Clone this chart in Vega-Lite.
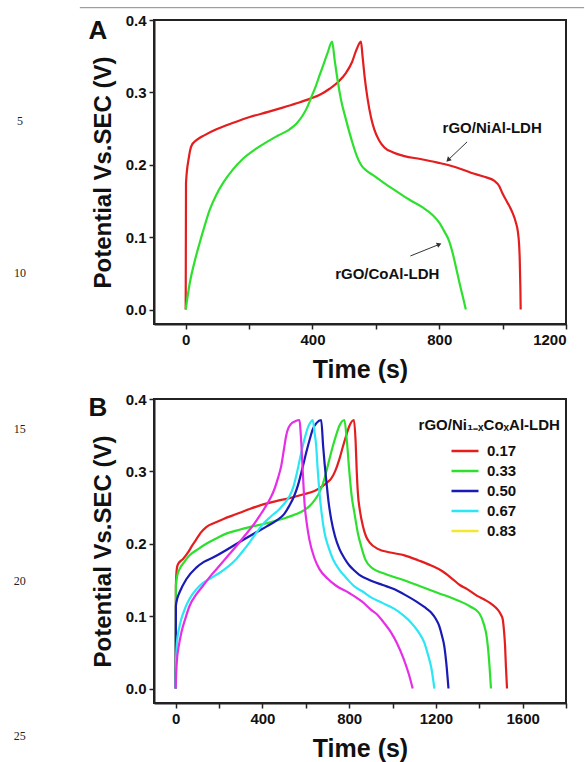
{
  "$schema": "https://vega.github.io/schema/vega-lite/v6.json",
  "background": "white",
  "padding": {"left": 12, "top": 6, "right": 0, "bottom": 0},
  "spacing": 8,
  "config": {
    "font": "Liberation Sans",
    "view": {"stroke": "#222", "strokeWidth": 2},
    "axis": {
      "domainColor": "#222", "domainWidth": 2, "tickColor": "#222", "tickWidth": 1.5, "tickSize": 5,
      "labelFont": "Liberation Sans", "labelFontSize": 15, "labelFontWeight": "bold", "labelColor": "#111", "labelPadding": 3,
      "titleFont": "Liberation Sans", "titleFontSize": 24, "titleFontWeight": "bold", "titleColor": "#111", "grid": false
    },
    "text": {"font": "Liberation Sans"}
  },
  "resolve": {"scale": {"color": "independent"}, "legend": {"color": "independent"}},
  "datasets": {
    "curvesA": [
      {"s": "rGO/NiAl-LDH", "t": 0, "v": 0}, {"s": "rGO/NiAl-LDH", "t": 1, "v": 0.175}, {"s": "rGO/NiAl-LDH", "t": 10, "v": 0.21}, {"s": "rGO/NiAl-LDH", "t": 18, "v": 0.226},
      {"s": "rGO/NiAl-LDH", "t": 34, "v": 0.234}, {"s": "rGO/NiAl-LDH", "t": 60, "v": 0.241}, {"s": "rGO/NiAl-LDH", "t": 97, "v": 0.249}, {"s": "rGO/NiAl-LDH", "t": 150, "v": 0.258},
      {"s": "rGO/NiAl-LDH", "t": 202, "v": 0.266}, {"s": "rGO/NiAl-LDH", "t": 260, "v": 0.273}, {"s": "rGO/NiAl-LDH", "t": 306, "v": 0.279}, {"s": "rGO/NiAl-LDH", "t": 350, "v": 0.285},
      {"s": "rGO/NiAl-LDH", "t": 391, "v": 0.291}, {"s": "rGO/NiAl-LDH", "t": 425, "v": 0.297}, {"s": "rGO/NiAl-LDH", "t": 454, "v": 0.305}, {"s": "rGO/NiAl-LDH", "t": 480, "v": 0.314},
      {"s": "rGO/NiAl-LDH", "t": 506, "v": 0.327}, {"s": "rGO/NiAl-LDH", "t": 525, "v": 0.342}, {"s": "rGO/NiAl-LDH", "t": 538, "v": 0.358}, {"s": "rGO/NiAl-LDH", "t": 553, "v": 0.37},
      {"s": "rGO/NiAl-LDH", "t": 558, "v": 0.35}, {"s": "rGO/NiAl-LDH", "t": 565, "v": 0.32}, {"s": "rGO/NiAl-LDH", "t": 574, "v": 0.291}, {"s": "rGO/NiAl-LDH", "t": 585, "v": 0.265},
      {"s": "rGO/NiAl-LDH", "t": 595, "v": 0.249}, {"s": "rGO/NiAl-LDH", "t": 610, "v": 0.234}, {"s": "rGO/NiAl-LDH", "t": 627, "v": 0.224}, {"s": "rGO/NiAl-LDH", "t": 655, "v": 0.217},
      {"s": "rGO/NiAl-LDH", "t": 690, "v": 0.212}, {"s": "rGO/NiAl-LDH", "t": 740, "v": 0.208}, {"s": "rGO/NiAl-LDH", "t": 795, "v": 0.203}, {"s": "rGO/NiAl-LDH", "t": 850, "v": 0.197},
      {"s": "rGO/NiAl-LDH", "t": 900, "v": 0.189}, {"s": "rGO/NiAl-LDH", "t": 945, "v": 0.183}, {"s": "rGO/NiAl-LDH", "t": 973, "v": 0.178}, {"s": "rGO/NiAl-LDH", "t": 990, "v": 0.17},
      {"s": "rGO/NiAl-LDH", "t": 999, "v": 0.161}, {"s": "rGO/NiAl-LDH", "t": 1015, "v": 0.148}, {"s": "rGO/NiAl-LDH", "t": 1031, "v": 0.134}, {"s": "rGO/NiAl-LDH", "t": 1042, "v": 0.12},
      {"s": "rGO/NiAl-LDH", "t": 1048, "v": 0.108}, {"s": "rGO/NiAl-LDH", "t": 1052, "v": 0.09}, {"s": "rGO/NiAl-LDH", "t": 1054, "v": 0.07}, {"s": "rGO/NiAl-LDH", "t": 1056, "v": 0.03},
      {"s": "rGO/NiAl-LDH", "t": 1057, "v": 0},
      {"s": "rGO/CoAl-LDH", "t": 0, "v": 0}, {"s": "rGO/CoAl-LDH", "t": 5, "v": 0.015}, {"s": "rGO/CoAl-LDH", "t": 13, "v": 0.037}, {"s": "rGO/CoAl-LDH", "t": 28, "v": 0.066},
      {"s": "rGO/CoAl-LDH", "t": 44, "v": 0.092}, {"s": "rGO/CoAl-LDH", "t": 60, "v": 0.116}, {"s": "rGO/CoAl-LDH", "t": 76, "v": 0.138}, {"s": "rGO/CoAl-LDH", "t": 96, "v": 0.158},
      {"s": "rGO/CoAl-LDH", "t": 118, "v": 0.175}, {"s": "rGO/CoAl-LDH", "t": 148, "v": 0.193}, {"s": "rGO/CoAl-LDH", "t": 180, "v": 0.208}, {"s": "rGO/CoAl-LDH", "t": 215, "v": 0.22},
      {"s": "rGO/CoAl-LDH", "t": 254, "v": 0.231}, {"s": "rGO/CoAl-LDH", "t": 290, "v": 0.24}, {"s": "rGO/CoAl-LDH", "t": 328, "v": 0.249}, {"s": "rGO/CoAl-LDH", "t": 350, "v": 0.257},
      {"s": "rGO/CoAl-LDH", "t": 369, "v": 0.268}, {"s": "rGO/CoAl-LDH", "t": 384, "v": 0.28}, {"s": "rGO/CoAl-LDH", "t": 396, "v": 0.293}, {"s": "rGO/CoAl-LDH", "t": 410, "v": 0.308},
      {"s": "rGO/CoAl-LDH", "t": 422, "v": 0.323}, {"s": "rGO/CoAl-LDH", "t": 436, "v": 0.34}, {"s": "rGO/CoAl-LDH", "t": 448, "v": 0.355}, {"s": "rGO/CoAl-LDH", "t": 462, "v": 0.37},
      {"s": "rGO/CoAl-LDH", "t": 470, "v": 0.345}, {"s": "rGO/CoAl-LDH", "t": 480, "v": 0.315}, {"s": "rGO/CoAl-LDH", "t": 490, "v": 0.29}, {"s": "rGO/CoAl-LDH", "t": 506, "v": 0.262},
      {"s": "rGO/CoAl-LDH", "t": 525, "v": 0.232}, {"s": "rGO/CoAl-LDH", "t": 540, "v": 0.212}, {"s": "rGO/CoAl-LDH", "t": 553, "v": 0.2}, {"s": "rGO/CoAl-LDH", "t": 570, "v": 0.192},
      {"s": "rGO/CoAl-LDH", "t": 590, "v": 0.186}, {"s": "rGO/CoAl-LDH", "t": 625, "v": 0.175}, {"s": "rGO/CoAl-LDH", "t": 663, "v": 0.164}, {"s": "rGO/CoAl-LDH", "t": 705, "v": 0.152},
      {"s": "rGO/CoAl-LDH", "t": 748, "v": 0.141}, {"s": "rGO/CoAl-LDH", "t": 778, "v": 0.131}, {"s": "rGO/CoAl-LDH", "t": 800, "v": 0.12}, {"s": "rGO/CoAl-LDH", "t": 816, "v": 0.108},
      {"s": "rGO/CoAl-LDH", "t": 831, "v": 0.095}, {"s": "rGO/CoAl-LDH", "t": 843, "v": 0.077}, {"s": "rGO/CoAl-LDH", "t": 853, "v": 0.058}, {"s": "rGO/CoAl-LDH", "t": 866, "v": 0.033},
      {"s": "rGO/CoAl-LDH", "t": 876, "v": 0.015}, {"s": "rGO/CoAl-LDH", "t": 884, "v": 0}
    ],
    "annA": [
      {"label": "rGO/NiAl-LDH", "lx": 967, "ly": 0.251, "tx": 888, "ty": 0.2316, "hx": 828, "hy": 0.2066},
      {"label": "rGO/CoAl-LDH", "lx": 636, "ly": 0.049, "tx": 709, "ty": 0.074, "hx": 800, "hy": 0.09}
    ],
    "lineNumsA": [
      {"n": "5", "x": -523, "y": 0.261},
      {"n": "10", "x": -523, "y": 0.05}
    ],
    "lineNumsB": [
      {"n": "15", "x": -719, "y": 0.358},
      {"n": "20", "x": -719, "y": 0.149},
      {"n": "25", "x": -719, "y": -0.065}
    ],
    "pageRule": [
      {"x": -334, "x2": 1257, "y": 0.417}
    ],
    "curvesB": [
      {"s": "0.17", "t": 0, "v": 0}, {"s": "0.17", "t": 1, "v": 0.142}, {"s": "0.17", "t": 5, "v": 0.165}, {"s": "0.17", "t": 11, "v": 0.172}, {"s": "0.17", "t": 34, "v": 0.179},
      {"s": "0.17", "t": 57, "v": 0.188}, {"s": "0.17", "t": 75, "v": 0.197}, {"s": "0.17", "t": 95, "v": 0.206}, {"s": "0.17", "t": 115, "v": 0.215}, {"s": "0.17", "t": 141, "v": 0.223},
      {"s": "0.17", "t": 180, "v": 0.229}, {"s": "0.17", "t": 218, "v": 0.234}, {"s": "0.17", "t": 280, "v": 0.241}, {"s": "0.17", "t": 341, "v": 0.248}, {"s": "0.17", "t": 400, "v": 0.254},
      {"s": "0.17", "t": 464, "v": 0.259}, {"s": "0.17", "t": 525, "v": 0.263}, {"s": "0.17", "t": 586, "v": 0.268}, {"s": "0.17", "t": 640, "v": 0.273}, {"s": "0.17", "t": 679, "v": 0.28},
      {"s": "0.17", "t": 700, "v": 0.285}, {"s": "0.17", "t": 717, "v": 0.29}, {"s": "0.17", "t": 735, "v": 0.3}, {"s": "0.17", "t": 755, "v": 0.317}, {"s": "0.17", "t": 770, "v": 0.333},
      {"s": "0.17", "t": 786, "v": 0.349}, {"s": "0.17", "t": 800, "v": 0.362}, {"s": "0.17", "t": 822, "v": 0.371}, {"s": "0.17", "t": 830, "v": 0.34}, {"s": "0.17", "t": 835, "v": 0.3},
      {"s": "0.17", "t": 840, "v": 0.271}, {"s": "0.17", "t": 850, "v": 0.245}, {"s": "0.17", "t": 863, "v": 0.225}, {"s": "0.17", "t": 878, "v": 0.21}, {"s": "0.17", "t": 894, "v": 0.202},
      {"s": "0.17", "t": 932, "v": 0.193}, {"s": "0.17", "t": 990, "v": 0.188}, {"s": "0.17", "t": 1055, "v": 0.184}, {"s": "0.17", "t": 1120, "v": 0.177}, {"s": "0.17", "t": 1178, "v": 0.17},
      {"s": "0.17", "t": 1230, "v": 0.162}, {"s": "0.17", "t": 1270, "v": 0.153}, {"s": "0.17", "t": 1310, "v": 0.143}, {"s": "0.17", "t": 1346, "v": 0.137}, {"s": "0.17", "t": 1390, "v": 0.128},
      {"s": "0.17", "t": 1423, "v": 0.123}, {"s": "0.17", "t": 1460, "v": 0.116}, {"s": "0.17", "t": 1485, "v": 0.109}, {"s": "0.17", "t": 1500, "v": 0.102}, {"s": "0.17", "t": 1508, "v": 0.096},
      {"s": "0.17", "t": 1514, "v": 0.08}, {"s": "0.17", "t": 1519, "v": 0.059}, {"s": "0.17", "t": 1523, "v": 0.03}, {"s": "0.17", "t": 1528, "v": 0},
      {"s": "0.33", "t": 0, "v": 0}, {"s": "0.33", "t": 1, "v": 0.142}, {"s": "0.33", "t": 8, "v": 0.157}, {"s": "0.33", "t": 18, "v": 0.165}, {"s": "0.33", "t": 40, "v": 0.175},
      {"s": "0.33", "t": 64, "v": 0.184}, {"s": "0.33", "t": 100, "v": 0.192}, {"s": "0.33", "t": 141, "v": 0.2}, {"s": "0.33", "t": 185, "v": 0.207}, {"s": "0.33", "t": 233, "v": 0.214},
      {"s": "0.33", "t": 290, "v": 0.219}, {"s": "0.33", "t": 341, "v": 0.223}, {"s": "0.33", "t": 400, "v": 0.227}, {"s": "0.33", "t": 464, "v": 0.232}, {"s": "0.33", "t": 510, "v": 0.236},
      {"s": "0.33", "t": 556, "v": 0.241}, {"s": "0.33", "t": 590, "v": 0.246}, {"s": "0.33", "t": 617, "v": 0.252}, {"s": "0.33", "t": 640, "v": 0.26}, {"s": "0.33", "t": 663, "v": 0.271},
      {"s": "0.33", "t": 680, "v": 0.284}, {"s": "0.33", "t": 694, "v": 0.299}, {"s": "0.33", "t": 710, "v": 0.318}, {"s": "0.33", "t": 725, "v": 0.335}, {"s": "0.33", "t": 740, "v": 0.35},
      {"s": "0.33", "t": 755, "v": 0.363}, {"s": "0.33", "t": 778, "v": 0.371}, {"s": "0.33", "t": 790, "v": 0.34}, {"s": "0.33", "t": 801, "v": 0.299}, {"s": "0.33", "t": 812, "v": 0.265},
      {"s": "0.33", "t": 824, "v": 0.243}, {"s": "0.33", "t": 840, "v": 0.215}, {"s": "0.33", "t": 855, "v": 0.197}, {"s": "0.33", "t": 875, "v": 0.178}, {"s": "0.33", "t": 900, "v": 0.168},
      {"s": "0.33", "t": 970, "v": 0.158}, {"s": "0.33", "t": 1050, "v": 0.15}, {"s": "0.33", "t": 1130, "v": 0.141}, {"s": "0.33", "t": 1210, "v": 0.132}, {"s": "0.33", "t": 1290, "v": 0.123},
      {"s": "0.33", "t": 1360, "v": 0.113}, {"s": "0.33", "t": 1400, "v": 0.104}, {"s": "0.33", "t": 1420, "v": 0.09}, {"s": "0.33", "t": 1435, "v": 0.07}, {"s": "0.33", "t": 1445, "v": 0.04},
      {"s": "0.33", "t": 1454, "v": 0},
      {"s": "0.50", "t": 0, "v": 0}, {"s": "0.50", "t": 1, "v": 0.114}, {"s": "0.50", "t": 8, "v": 0.125}, {"s": "0.50", "t": 18, "v": 0.133}, {"s": "0.50", "t": 49, "v": 0.151},
      {"s": "0.50", "t": 95, "v": 0.167}, {"s": "0.50", "t": 130, "v": 0.175}, {"s": "0.50", "t": 172, "v": 0.181}, {"s": "0.50", "t": 220, "v": 0.189}, {"s": "0.50", "t": 264, "v": 0.197},
      {"s": "0.50", "t": 320, "v": 0.207}, {"s": "0.50", "t": 372, "v": 0.216}, {"s": "0.50", "t": 420, "v": 0.224}, {"s": "0.50", "t": 464, "v": 0.232}, {"s": "0.50", "t": 500, "v": 0.241},
      {"s": "0.50", "t": 525, "v": 0.253}, {"s": "0.50", "t": 545, "v": 0.265}, {"s": "0.50", "t": 563, "v": 0.28}, {"s": "0.50", "t": 585, "v": 0.305}, {"s": "0.50", "t": 602, "v": 0.326},
      {"s": "0.50", "t": 618, "v": 0.344}, {"s": "0.50", "t": 632, "v": 0.358}, {"s": "0.50", "t": 650, "v": 0.367}, {"s": "0.50", "t": 671, "v": 0.371}, {"s": "0.50", "t": 680, "v": 0.335},
      {"s": "0.50", "t": 687, "v": 0.31}, {"s": "0.50", "t": 694, "v": 0.289}, {"s": "0.50", "t": 705, "v": 0.258}, {"s": "0.50", "t": 717, "v": 0.234}, {"s": "0.50", "t": 735, "v": 0.21},
      {"s": "0.50", "t": 755, "v": 0.193}, {"s": "0.50", "t": 778, "v": 0.18}, {"s": "0.50", "t": 801, "v": 0.17}, {"s": "0.50", "t": 824, "v": 0.163}, {"s": "0.50", "t": 847, "v": 0.157},
      {"s": "0.50", "t": 901, "v": 0.149}, {"s": "0.50", "t": 955, "v": 0.143}, {"s": "0.50", "t": 1009, "v": 0.137}, {"s": "0.50", "t": 1060, "v": 0.129}, {"s": "0.50", "t": 1116, "v": 0.119},
      {"s": "0.50", "t": 1150, "v": 0.112}, {"s": "0.50", "t": 1178, "v": 0.105}, {"s": "0.50", "t": 1200, "v": 0.096}, {"s": "0.50", "t": 1216, "v": 0.086}, {"s": "0.50", "t": 1228, "v": 0.073},
      {"s": "0.50", "t": 1239, "v": 0.058}, {"s": "0.50", "t": 1248, "v": 0.035}, {"s": "0.50", "t": 1258, "v": 0},
      {"s": "0.67", "t": 0, "v": 0}, {"s": "0.67", "t": 2, "v": 0.04}, {"s": "0.67", "t": 6, "v": 0.064}, {"s": "0.67", "t": 15, "v": 0.082}, {"s": "0.67", "t": 26, "v": 0.096},
      {"s": "0.67", "t": 45, "v": 0.112}, {"s": "0.67", "t": 64, "v": 0.124}, {"s": "0.67", "t": 95, "v": 0.137}, {"s": "0.67", "t": 126, "v": 0.146}, {"s": "0.67", "t": 165, "v": 0.153},
      {"s": "0.67", "t": 203, "v": 0.16}, {"s": "0.67", "t": 240, "v": 0.168}, {"s": "0.67", "t": 280, "v": 0.179}, {"s": "0.67", "t": 310, "v": 0.19}, {"s": "0.67", "t": 341, "v": 0.202},
      {"s": "0.67", "t": 372, "v": 0.215}, {"s": "0.67", "t": 402, "v": 0.227}, {"s": "0.67", "t": 440, "v": 0.238}, {"s": "0.67", "t": 479, "v": 0.248}, {"s": "0.67", "t": 505, "v": 0.257},
      {"s": "0.67", "t": 525, "v": 0.266}, {"s": "0.67", "t": 542, "v": 0.278}, {"s": "0.67", "t": 556, "v": 0.294}, {"s": "0.67", "t": 572, "v": 0.316}, {"s": "0.67", "t": 586, "v": 0.335},
      {"s": "0.67", "t": 598, "v": 0.349}, {"s": "0.67", "t": 609, "v": 0.36}, {"s": "0.67", "t": 620, "v": 0.367}, {"s": "0.67", "t": 632, "v": 0.371}, {"s": "0.67", "t": 640, "v": 0.355},
      {"s": "0.67", "t": 648, "v": 0.335}, {"s": "0.67", "t": 655, "v": 0.302}, {"s": "0.67", "t": 663, "v": 0.271}, {"s": "0.67", "t": 674, "v": 0.24}, {"s": "0.67", "t": 686, "v": 0.216},
      {"s": "0.67", "t": 705, "v": 0.195}, {"s": "0.67", "t": 725, "v": 0.179}, {"s": "0.67", "t": 755, "v": 0.164}, {"s": "0.67", "t": 786, "v": 0.153}, {"s": "0.67", "t": 824, "v": 0.141},
      {"s": "0.67", "t": 862, "v": 0.134}, {"s": "0.67", "t": 901, "v": 0.126}, {"s": "0.67", "t": 955, "v": 0.118}, {"s": "0.67", "t": 1009, "v": 0.11}, {"s": "0.67", "t": 1050, "v": 0.101},
      {"s": "0.67", "t": 1086, "v": 0.091}, {"s": "0.67", "t": 1120, "v": 0.078}, {"s": "0.67", "t": 1147, "v": 0.063}, {"s": "0.67", "t": 1165, "v": 0.045}, {"s": "0.67", "t": 1178, "v": 0.03},
      {"s": "0.67", "t": 1193, "v": 0},
      {"s": "0.83", "t": 0, "v": 0}, {"s": "0.83", "t": 2, "v": 0.02}, {"s": "0.83", "t": 6, "v": 0.04}, {"s": "0.83", "t": 15, "v": 0.06}, {"s": "0.83", "t": 26, "v": 0.077},
      {"s": "0.83", "t": 45, "v": 0.097}, {"s": "0.83", "t": 64, "v": 0.114}, {"s": "0.83", "t": 95, "v": 0.13}, {"s": "0.83", "t": 126, "v": 0.142}, {"s": "0.83", "t": 165, "v": 0.157},
      {"s": "0.83", "t": 203, "v": 0.17}, {"s": "0.83", "t": 240, "v": 0.183}, {"s": "0.83", "t": 280, "v": 0.197}, {"s": "0.83", "t": 318, "v": 0.211}, {"s": "0.83", "t": 356, "v": 0.225},
      {"s": "0.83", "t": 388, "v": 0.239}, {"s": "0.83", "t": 418, "v": 0.253}, {"s": "0.83", "t": 440, "v": 0.265}, {"s": "0.83", "t": 456, "v": 0.276}, {"s": "0.83", "t": 472, "v": 0.291},
      {"s": "0.83", "t": 487, "v": 0.308}, {"s": "0.83", "t": 500, "v": 0.332}, {"s": "0.83", "t": 510, "v": 0.35}, {"s": "0.83", "t": 520, "v": 0.36}, {"s": "0.83", "t": 533, "v": 0.366},
      {"s": "0.83", "t": 550, "v": 0.369}, {"s": "0.83", "t": 571, "v": 0.371}, {"s": "0.83", "t": 576, "v": 0.355}, {"s": "0.83", "t": 580, "v": 0.335}, {"s": "0.83", "t": 586, "v": 0.3},
      {"s": "0.83", "t": 594, "v": 0.257}, {"s": "0.83", "t": 605, "v": 0.227}, {"s": "0.83", "t": 617, "v": 0.205}, {"s": "0.83", "t": 640, "v": 0.18}, {"s": "0.83", "t": 663, "v": 0.165},
      {"s": "0.83", "t": 700, "v": 0.152}, {"s": "0.83", "t": 740, "v": 0.142}, {"s": "0.83", "t": 800, "v": 0.132}, {"s": "0.83", "t": 860, "v": 0.12}, {"s": "0.83", "t": 900, "v": 0.109},
      {"s": "0.83", "t": 930, "v": 0.102}, {"s": "0.83", "t": 960, "v": 0.091}, {"s": "0.83", "t": 990, "v": 0.079}, {"s": "0.83", "t": 1020, "v": 0.063}, {"s": "0.83", "t": 1050, "v": 0.042},
      {"s": "0.83", "t": 1075, "v": 0.02}, {"s": "0.83", "t": 1093, "v": 0}
    ]
  },
  "vconcat": [
    {
      "width": 412,
      "height": 304,
      "layer": [
        {
          "data": {"name": "curvesA"},
          "mark": {"type": "line", "strokeWidth": 2.2, "interpolate": "monotone"},
          "encoding": {
            "x": {"field": "t", "type": "quantitative", "scale": {"domain": [-100, 1200], "nice": false, "zero": false},
              "axis": {"title": "Time (s)", "titleFontSize": 25, "format": "d", "values": [0, 200, 400, 600, 800, 1000, 1200], "labelExpr": "datum.value % 400 === 0 ? datum.label : ''", "titlePadding": 10}},
            "y": {"field": "v", "type": "quantitative", "scale": {"domain": [-0.02, 0.4], "nice": false, "zero": false},
              "axis": {"title": "Potential Vs.SEC (V)", "values": [0, 0.05, 0.1, 0.15, 0.2, 0.25, 0.3, 0.35, 0.4], "format": ".1f", "labelExpr": "round(datum.value * 100) % 10 === 0 ? datum.label : ''", "titlePadding": 10}},
            "color": {"field": "s", "type": "nominal", "scale": {"domain": ["rGO/NiAl-LDH", "rGO/CoAl-LDH"], "range": ["#e41e1e", "#2ee02e"]}, "legend": null}
          }
        },
        {
          "data": {"name": "annA"},
          "mark": {"type": "rule", "color": "#333", "strokeWidth": 1},
          "encoding": {
            "x": {"field": "tx", "type": "quantitative"}, "y": {"field": "ty", "type": "quantitative"},
            "x2": {"field": "hx"}, "y2": {"field": "hy"}
          }
        },
        {
          "data": {"name": "annA"},
          "transform": [{"filter": "datum.label === 'rGO/NiAl-LDH'"}],
          "mark": {"type": "point", "shape": "triangle-up", "filled": true, "color": "#333", "size": 30, "angle": 226, "opacity": 1},
          "encoding": {"x": {"field": "hx", "type": "quantitative"}, "y": {"field": "hy", "type": "quantitative"}}
        },
        {
          "data": {"name": "annA"},
          "transform": [{"filter": "datum.label === 'rGO/CoAl-LDH'"}],
          "mark": {"type": "point", "shape": "triangle-up", "filled": true, "color": "#333", "size": 30, "angle": 67, "opacity": 1},
          "encoding": {"x": {"field": "hx", "type": "quantitative"}, "y": {"field": "hy", "type": "quantitative"}}
        },
        {
          "data": {"name": "annA"},
          "mark": {"type": "text", "fontSize": 15, "fontWeight": "bold", "color": "#111", "align": "center", "baseline": "middle"},
          "encoding": {
            "x": {"field": "lx", "type": "quantitative"}, "y": {"field": "ly", "type": "quantitative"},
            "text": {"field": "label"}
          }
        },
        {
          "data": {"values": [{"panel": "A"}]},
          "mark": {"type": "text", "fontSize": 26, "fontWeight": "bold", "color": "#111", "align": "center", "baseline": "alphabetic", "dx": -56, "dy": 19},
          "encoding": {"x": {"datum": -100}, "y": {"datum": 0.4}, "text": {"field": "panel"}}
        },
        {
          "data": {"name": "lineNumsA"},
          "mark": {"type": "text", "font": "Liberation Serif", "fontSize": 12, "color": "#222", "align": "center", "baseline": "middle"},
          "encoding": {"x": {"field": "x", "type": "quantitative"}, "y": {"field": "y", "type": "quantitative"}, "text": {"field": "n"}}
        },
        {
          "data": {"name": "pageRule"},
          "mark": {"type": "rule", "color": "#888", "strokeWidth": 1},
          "encoding": {"x": {"field": "x", "type": "quantitative"}, "x2": {"field": "x2"}, "y": {"field": "y", "type": "quantitative"}}
        }
      ]
    },
    {
      "width": 412,
      "height": 304,
      "layer": [
        {
          "data": {"name": "curvesB"},
          "transform": [{"filter": "datum.s !== '0.83'"}],
          "mark": {"type": "line", "strokeWidth": 2.2, "interpolate": "monotone"},
          "encoding": {
            "x": {"field": "t", "type": "quantitative", "scale": {"domain": [-100, 1800], "nice": false, "zero": false},
              "axis": {"title": "Time (s)", "titleFontSize": 25, "format": "d", "values": [0, 200, 400, 600, 800, 1000, 1200, 1400, 1600, 1800], "labelExpr": "datum.value % 400 === 0 && datum.value <= 1600 ? datum.label : ''", "titlePadding": 10}},
            "y": {"field": "v", "type": "quantitative", "scale": {"domain": [-0.02, 0.4], "nice": false, "zero": false},
              "axis": {"title": "Potential Vs.SEC (V)", "values": [0, 0.05, 0.1, 0.15, 0.2, 0.25, 0.3, 0.35, 0.4], "format": ".1f", "labelExpr": "round(datum.value * 100) % 10 === 0 ? datum.label : ''", "titlePadding": 10}},
            "color": {"field": "s", "type": "nominal",
              "scale": {"domain": ["0.17", "0.33", "0.50", "0.67", "0.83"], "range": ["#e41e1e", "#2ee02e", "#1a1ab4", "#2be6f5", "#f5e62e"]},
              "legend": {"title": null, "orient": "none", "legendX": 296, "legendY": 42, "symbolType": "stroke", "symbolSize": 729, "symbolStrokeWidth": 2.5,
                "labelFont": "Liberation Sans", "labelFontSize": 15, "labelFontWeight": "bold", "labelColor": "#111", "labelOffset": 7, "clipHeight": 20, "rowPadding": 0, "padding": 0}}
          }
        },
        {
          "data": {"name": "curvesB"},
          "transform": [{"filter": "datum.s === '0.83'"}],
          "mark": {"type": "line", "strokeWidth": 2.2, "interpolate": "monotone", "color": "#e62ee6"},
          "encoding": {
            "x": {"field": "t", "type": "quantitative"},
            "y": {"field": "v", "type": "quantitative"}
          }
        },
        {
          "data": {"values": [{"legendTitle": "rGO/Ni₁₋ₓCoₓAl-LDH", "x": 1446, "y": 0.364}]},
          "mark": {"type": "text", "fontSize": 15, "fontWeight": "bold", "color": "#111", "align": "center", "baseline": "middle"},
          "encoding": {"x": {"field": "x", "type": "quantitative"}, "y": {"field": "y", "type": "quantitative"}, "text": {"field": "legendTitle"}}
        },
        {
          "data": {"values": [{"panel": "B"}]},
          "mark": {"type": "text", "fontSize": 26, "fontWeight": "bold", "color": "#111", "align": "center", "baseline": "alphabetic", "dx": -56, "dy": 17},
          "encoding": {"x": {"datum": -100}, "y": {"datum": 0.4}, "text": {"field": "panel"}}
        },
        {
          "data": {"name": "lineNumsB"},
          "mark": {"type": "text", "font": "Liberation Serif", "fontSize": 12, "color": "#222", "align": "center", "baseline": "middle"},
          "encoding": {"x": {"field": "x", "type": "quantitative"}, "y": {"field": "y", "type": "quantitative"}, "text": {"field": "n"}}
        }
      ]
    }
  ]
}
